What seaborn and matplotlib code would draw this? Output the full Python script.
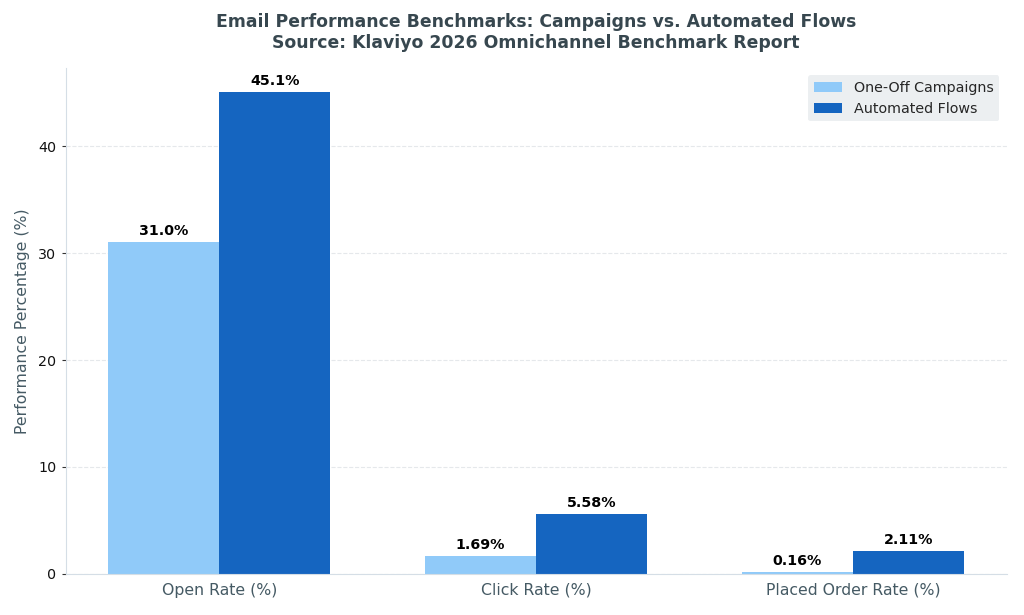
import matplotlib
matplotlib.use("Agg")
import matplotlib.pyplot as plt
import seaborn as sns
import pandas as pd

metrics = ["Open Rate (%)", "Click Rate (%)", "Placed Order Rate (%)"]
campaigns = [31.0, 1.69, 0.16]
flows = [45.1, 5.58, 2.11]
labels_campaigns = ["31.0%", "1.69%", "0.16%"]
labels_flows = ["45.1%", "5.58%", "2.11%"]
series = ["One-Off Campaigns", "Automated Flows"]

df = pd.DataFrame({
    "Metric": metrics * 2,
    "Value": campaigns + flows,
    "Type": [series[0]] * 3 + [series[1]] * 3,
})

sns.set_style("white")
plt.rcParams['font.family'] = ['DejaVu Sans']

fig, ax = plt.subplots(figsize=(10.24, 6.15), dpi=100)
sns.barplot(data=df, x="Metric", y="Value", hue="Type", order=metrics, hue_order=series,
            palette=["#90CAF9", "#1565C0"], width=0.7, ax=ax, errorbar=None,
            edgecolor="none", saturation=1)

for cont, labs in zip(ax.containers, [labels_campaigns, labels_flows]):
    ax.bar_label(cont, labels=labs, padding=3, fontsize=10.3, fontweight="bold", color="black")

ax.set_title("Email Performance Benchmarks: Campaigns vs. Automated Flows\nSource: Klaviyo 2026 Omnichannel Benchmark Report",
             fontsize=12.4, fontweight="bold", color="#37474F", pad=14)
ax.set_xlabel("")
ax.set_ylabel("Performance Percentage (%)", fontsize=11.3, color="#455A64", labelpad=6)
ax.tick_params(axis="x", labelsize=11.3, labelcolor="#455A64", length=3, color="#455A64")
ax.tick_params(axis="y", labelsize=10.3, labelcolor="#111111", length=3, left=True, color="#333333")
ax.yaxis.grid(True, linestyle="--", color="#E5E8EB", linewidth=0.8)
ax.set_axisbelow(True)
for s in ["top", "right"]:
    ax.spines[s].set_visible(False)
for s in ["left", "bottom"]:
    ax.spines[s].set_color("#D5DEE6")
ax.set_ylim(0, 45.1 * 1.05)
ax.set_xlim(-0.485, 2.485)

leg = ax.legend(loc="upper right", frameon=True, fontsize=10.3, title=None)
leg.get_frame().set_facecolor("#ECEFF1")
leg.get_frame().set_edgecolor("none")
leg.get_frame().set_alpha(1)

plt.subplots_adjust(left=0.064, right=0.983, top=0.89, bottom=0.067)
fig.savefig("out.png", dpi=100)
